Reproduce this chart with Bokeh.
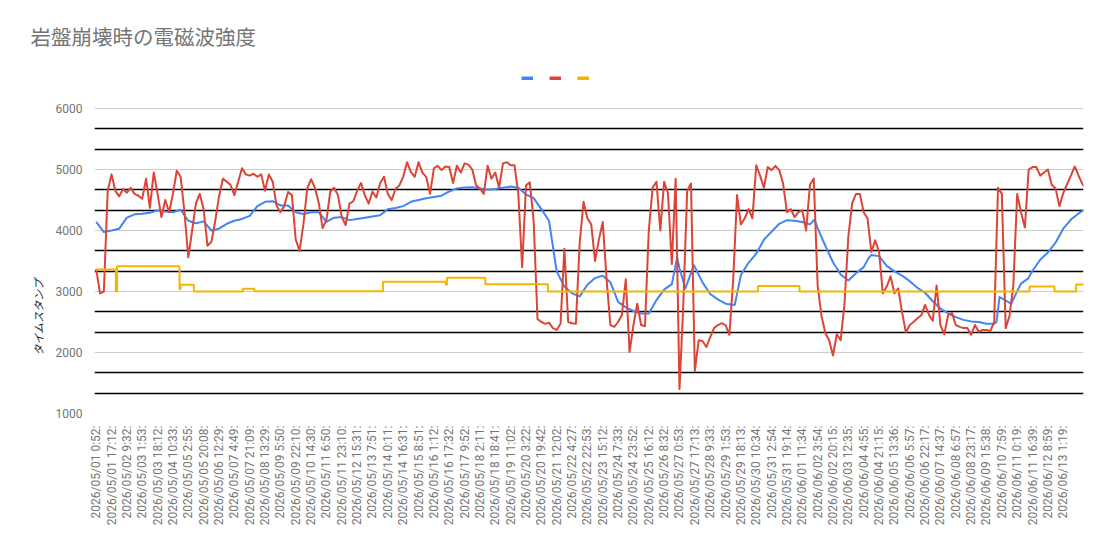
import math
from bokeh.plotting import figure
from bokeh.models import Range1d, FixedTicker, Legend, LegendItem, Title
from bokeh.core.properties import value
from bokeh.embed import file_html
from bokeh.resources import INLINE

TITLE = "岩盤崩壊時の電磁波強度"
Y_TITLE = "タイムスタンプ"

x_labels = [
    "2026/05/01 0:52:", "2026/05/01 17:12:", "2026/05/02 9:32:", "2026/05/03 1:53:",
    "2026/05/03 18:12:", "2026/05/04 10:33:", "2026/05/05 2:55:", "2026/05/05 20:08:",
    "2026/05/06 12:29:", "2026/05/07 4:49:", "2026/05/07 21:09:", "2026/05/08 13:29:",
    "2026/05/09 5:50:", "2026/05/09 22:10:", "2026/05/10 14:30:", "2026/05/11 6:50:",
    "2026/05/11 23:10:", "2026/05/12 15:31:", "2026/05/13 7:51:", "2026/05/14 0:11:",
    "2026/05/14 16:31:", "2026/05/15 8:51:", "2026/05/16 1:12:", "2026/05/16 17:32:",
    "2026/05/17 9:52:", "2026/05/18 2:11:", "2026/05/18 18:41:", "2026/05/19 11:02:",
    "2026/05/20 3:22:", "2026/05/20 19:42:", "2026/05/21 12:02:", "2026/05/22 4:27:",
    "2026/05/22 22:53:", "2026/05/23 15:12:", "2026/05/24 7:33:", "2026/05/24 23:52:",
    "2026/05/25 16:12:", "2026/05/26 8:32:", "2026/05/27 0:53:", "2026/05/27 17:13:",
    "2026/05/28 9:33:", "2026/05/29 1:53:", "2026/05/29 18:13:", "2026/05/30 10:34:",
    "2026/05/31 2:54:", "2026/05/31 19:14:", "2026/06/01 11:34:", "2026/06/02 3:54:",
    "2026/06/02 20:15:", "2026/06/03 12:35:", "2026/06/04 4:55:", "2026/06/04 21:15:",
    "2026/06/05 13:36:", "2026/06/06 5:57:", "2026/06/06 22:17:", "2026/06/07 14:37:",
    "2026/06/08 6:57:", "2026/06/08 23:17:", "2026/06/09 15:38:", "2026/06/10 7:59:",
    "2026/06/11 0:19:", "2026/06/11 16:39:", "2026/06/12 8:59:", "2026/06/13 1:19:",
]

# red series: one sample every quarter of a label interval
SAMPLES_PER_LABEL = 4
red = [
    3370, 2970, 3000, 4650, 4920, 4650, 4560, 4680, 4620, 4700,
    4600, 4570, 4520, 4850, 4370, 4950, 4600, 4220, 4500, 4300,
    4600, 4980, 4880, 4300, 3560, 4000, 4450, 4600, 4350, 3750,
    3810, 4150, 4550, 4850, 4800, 4750, 4580, 4800, 5020, 4920,
    4900, 4930, 4880, 4920, 4650, 4920, 4800, 4410, 4300, 4400,
    4630, 4580, 3850, 3670, 4100, 4690, 4840, 4700, 4450,
    4040, 4170, 4640, 4700, 4580, 4220, 4090, 4440, 4480, 4650,
    4780, 4580, 4440, 4640, 4540, 4780, 4880, 4600, 4500, 4680,
    4740, 4880, 5120, 4960, 4880, 5120, 4950, 4880, 4600, 5020,
    5060, 4990, 5050, 5040, 4780, 5060, 4950, 5100, 5080, 5000,
    4740, 4690, 4600, 5060, 4850, 4950, 4700, 5100, 5120, 5070,
    5070, 4600, 3400, 4740, 4790, 4150, 2550, 2500, 2470, 2490,
    2400, 2370,
    2470, 3700, 2500, 2480, 2470, 3800, 4470, 4200, 4100, 3500,
    3850, 4140, 3200, 2450, 2420, 2500, 2620, 3200, 2010, 2450,
    2800, 2450, 2430, 4000, 4700, 4800, 4000, 4800, 4610, 3450,
    4850, 1400, 2800, 4650, 4770, 1700, 2200, 2190, 2090, 2250,
    2400, 2450, 2480, 2450, 2290, 3200, 4580, 4100, 4200, 4350,
    4200, 5070, 4900, 4700, 5040, 4990, 5060, 4990, 4770, 4300,
    4350, 4220, 4300,
    4330, 4000, 4750, 4850, 3100, 2600, 2320, 2200, 1950, 2300,
    2200, 2800, 3900, 4450, 4600, 4600, 4300, 4200, 3650, 3840,
    3650, 2970, 3080, 3250, 2970, 3050, 2660, 2330, 2450, 2500,
    2560, 2610, 2780, 2620, 2520, 3100, 2450, 2300, 2610, 2650,
    2450, 2420, 2400, 2400, 2290, 2450, 2340, 2370, 2370, 2350,
    2500, 4700, 4600, 2400, 2600, 3100, 4600, 4300, 4050, 5000,
    5040, 5040, 4900, 4950, 5000, 4750, 4690, 4400, 4610, 4760,
    4900, 5050, 4900, 4760, 4690,
]
red_t = [i / SAMPLES_PER_LABEL for i in range(len(red))]

blue_t = [
    0, 0.5, 1, 1.5, 2, 2.5, 3, 3.5, 4, 4.5,
    5, 5.5, 6, 6.5, 7, 7.5, 8, 8.5, 9, 9.5,
    10, 10.5, 11, 11.5, 12, 12.5, 13, 13.5, 14, 14.5,
    15, 15.5, 16, 16.5, 17, 17.5, 18, 18.5, 19, 19.5,
    20, 20.5, 21, 21.5, 22, 22.5, 23, 23.5, 24, 24.5,
    25, 25.5, 26, 26.5, 27, 27.5, 28, 28.5, 29, 29.5,
    30, 30.5, 31, 31.5, 32, 32.5, 33, 33.5, 34, 34.5,
    35, 35.5, 36, 36.5, 37, 37.5, 37.85, 38, 38.38, 38.94,
    39.5, 40, 40.5, 41, 41.6, 42, 42.5, 43, 43.5, 44,
    44.5, 45, 45.5, 46, 46.5, 46.8, 47, 47.5, 48, 48.5,
    49, 49.5, 50, 50.3, 50.5, 51, 51.5, 52, 52.5, 53,
    53.5, 54, 54.5, 55, 55.5, 56, 56.5, 57, 57.5, 58,
    58.5, 58.65, 58.85, 59.6, 60.25, 60.7, 61, 61.5, 62, 62.5,
    63, 63.5, 64, 64.4,
]
blue = [
    4140, 3975, 4000, 4030, 4210, 4265, 4275, 4290, 4330, 4310,
    4300, 4340, 4160, 4120, 4150, 4000, 4030, 4110, 4160, 4190,
    4240, 4400, 4470, 4480, 4410, 4410, 4300, 4270, 4300, 4300,
    4140, 4210, 4220, 4170, 4190, 4210, 4230, 4250, 4350, 4370,
    4400, 4470, 4500, 4530, 4550, 4570, 4640, 4690, 4705, 4710,
    4690, 4670, 4680, 4700, 4720, 4700, 4590, 4530, 4350, 4160,
    3330, 3080, 2970, 2920, 3110, 3220, 3260, 3150, 2830, 2740,
    2680, 2640, 2640, 2860, 3030, 3120, 3560, 3380, 3050, 3430,
    3150, 2960, 2870, 2800, 2780, 3270, 3470, 3620, 3850, 3980,
    4110, 4170, 4160, 4140, 4100, 4180, 4040, 3750, 3480, 3280,
    3180, 3300, 3400, 3540, 3600, 3580, 3420, 3330, 3260, 3170,
    3060, 2980, 2840, 2720, 2640, 2580, 2535, 2510, 2500, 2470,
    2470, 2500, 2910, 2800, 3130, 3210, 3340, 3520, 3640, 3800,
    4030, 4180, 4280, 4345,
]

yellow_t = [0, 1.28, 1.36, 5.43, 5.5, 6.36, 9.55, 10.31, 18.68, 22.78,
            22.85, 25.35, 29.43, 43.11, 45.82, 60.80, 62.43, 63.84, 64.4]
yellow = [3360, 3000, 3415, 3040, 3110, 3000, 3045, 3005, 3160, 3110,
          3225, 3120, 3000, 3090, 3000, 3080, 3000, 3115, 3115]

y_ticks = [1000, 2000, 3000, 4000, 5000, 6000]

BLUE = "#4285F4"
RED = "#DB4437"
YELLOW = "#F4B400"
GREY_TXT = "#757575"

# frame spans from y=60px (room for legend) down to the 1000 line at 413px;
# 6000 sits at 108px, so the range extends 48px above it.
Y_TOP = 6000 + 48 / 305 * 5000

p = figure(width=1100, height=545, output_backend="svg", toolbar_location=None,
           x_range=Range1d(-0.11, 64.32), y_range=Range1d(1000, Y_TOP),
           min_border_left=94, min_border_right=17, min_border_top=60,
           min_border_bottom=132)
p.title.text = TITLE
p.title.text_font = "Noto Sans CJK JP"
p.title.text_font_size = "20.5px"
p.title.text_font_style = "normal"
p.title.text_color = GREY_TXT
p.title.align = "left"
p.title.offset = -64
p.title.vertical_align = "bottom"
p.title.standoff = 20

p.outline_line_color = None
p.background_fill_color = "white"
p.border_fill_color = "white"

minor = [t + d for t in y_ticks[:-1] for d in (1000 / 3, 2000 / 3)]
yt = FixedTicker(ticks=y_ticks, minor_ticks=minor)
p.yaxis.ticker = yt
p.ygrid.ticker = yt
p.ygrid.grid_line_color = "#cccccc"
p.ygrid.grid_line_width = 1
p.ygrid.minor_grid_line_color = "black"
p.ygrid.minor_grid_line_width = 1.4
p.xgrid.visible = False

p.yaxis.axis_line_color = None
p.yaxis.major_tick_line_color = None
p.yaxis.minor_tick_line_color = None
p.yaxis.major_label_standoff = 6
p.yaxis.major_label_text_font = "Roboto"
p.yaxis.major_label_text_font_size = "12px"
p.yaxis.major_label_text_color = GREY_TXT

p.xaxis.ticker = FixedTicker(ticks=list(range(len(x_labels))))
p.xaxis.major_label_overrides = {i: lab for i, lab in enumerate(x_labels)}
p.xaxis.major_label_orientation = math.pi / 2
p.xaxis.axis_line_color = None
p.xaxis.major_tick_line_color = None
p.xaxis.minor_tick_line_color = None
p.xaxis.major_label_standoff = 6
p.xaxis.major_label_text_font = "Roboto"
p.xaxis.major_label_text_font_size = "12px"
p.xaxis.major_label_text_color = GREY_TXT

p.line(blue_t, blue, line_color=BLUE, line_width=2, line_join="round")
p.line(red_t, red, line_color=RED, line_width=2, line_join="round")
p.step(yellow_t, yellow, mode="after", line_color=YELLOW, line_width=2)

# legend swatches (series have no names); one NaN point so the
# renderers are non-empty but draw nothing
nan = float("nan")
lb = p.line([0], [nan], line_color=BLUE, line_width=4)
lr = p.line([0], [nan], line_color=RED, line_width=4)
ly = p.line([0], [nan], line_color=YELLOW, line_width=4)
legend = Legend(items=[LegendItem(label=value(" "), renderers=[lb]),
                       LegendItem(label=value(" "), renderers=[lr]),
                       LegendItem(label=value(" "), renderers=[ly])],
                location=(427, 333), orientation="horizontal",
                glyph_width=12, glyph_height=4, label_width=0, label_height=4,
                label_standoff=0, spacing=16, padding=0, margin=0,
                border_line_color=None, background_fill_alpha=0,
                label_text_font_size="1px", label_text_alpha=0)
p.add_layout(legend)

p.add_layout(Title(text=Y_TITLE, text_font="Noto Sans CJK JP", text_font_size="11px",
                   text_font_style="italic", text_color="#222222",
                   align="left", offset=58, vertical_align="middle", standoff=12),
             "left")

open("out.html", "w").write(file_html(p, INLINE))
